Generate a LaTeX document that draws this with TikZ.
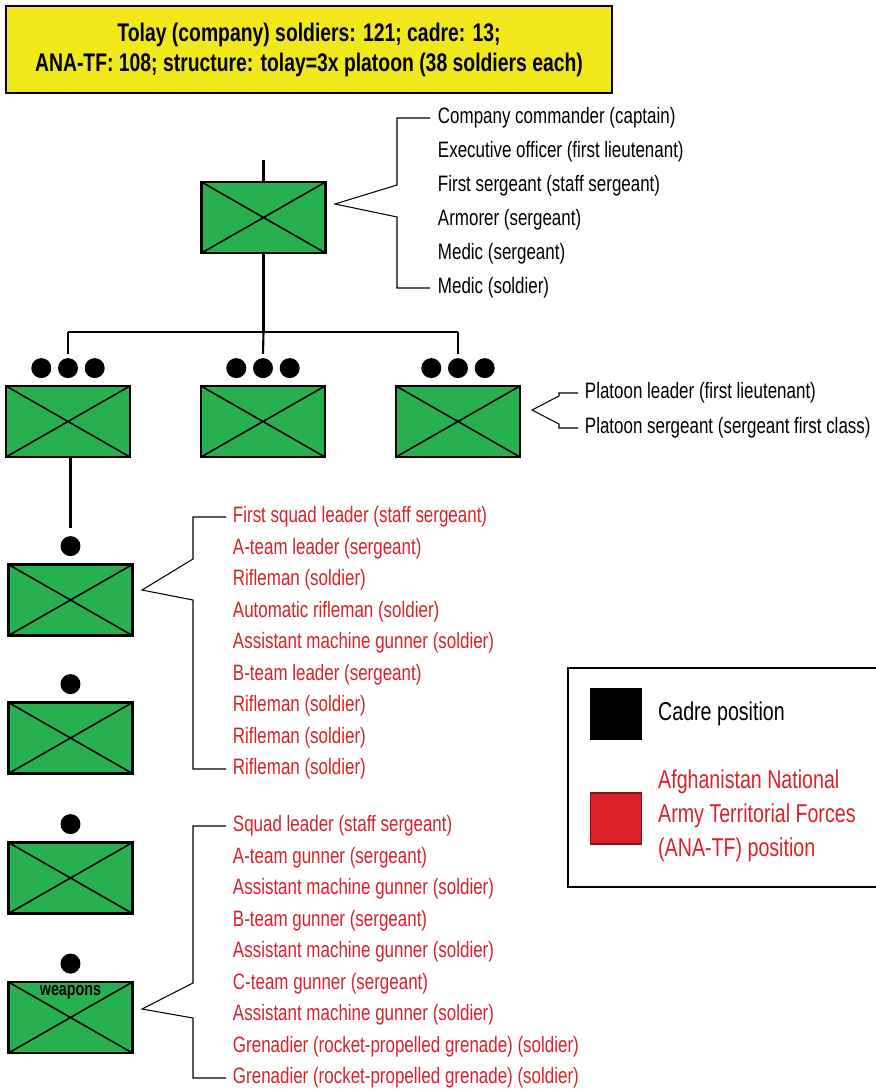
\documentclass[tikz,border=0pt]{standalone}
\usepackage{fontspec}
\setmainfont[FakeStretch=0.76]{Liberation Sans}
\usetikzlibrary{positioning}

\definecolor{armygreen}{RGB}{38,176,80}
\definecolor{titleyellow}{RGB}{240,232,26}
\definecolor{anared}{RGB}{218,33,39}

\tikzset{
  unitbox/.style={draw, line width=1.2pt, fill=armygreen, minimum width=2.48cm,
    minimum height=1.42cm, inner sep=0pt,
    path picture={\draw[line width=0.9pt]
      (path picture bounding box.north west) -- (path picture bounding box.south east)
      (path picture bounding box.south west) -- (path picture bounding box.north east);}},
  rankdot/.style={circle, fill=black, minimum size=0.4cm, inner sep=0pt},
  role/.style={anchor=west, inner sep=1.5pt, font=\fontsize{12.7}{14}\selectfont},
  anarole/.style={role, text=anared},
  brace/.style={line width=0.6pt},
  tree/.style={line width=1.2pt}
}

\begin{document}
\begin{tikzpicture}[x=0.02cm, y=-0.02cm]
\useasboundingbox (0,0) rectangle (876,1090);

% title
\node[draw, line width=0.8pt, fill=titleyellow, minimum width=12.12cm, minimum height=1.74cm,
  align=center, font=\bfseries\fontsize{14.5}{17}\selectfont] (title) at (309,49.5)
  {Tolay (company) soldiers: 121; cadre: 13;\\ANA-TF: 108; structure: tolay=3x platoon (38 soldiers each)};

% company
\node[unitbox] (co) at (263.5,217.5) {};
\coordinate (cotop) at (263.5,160);
\draw[tree] (cotop) -- (co.north);

% platoons
\node[unitbox] (p1) at (68,421.5) {};
\node[unitbox] (p2) at (263,421.5) {};
\node[unitbox] (p3) at (458,421.5) {};
\foreach \p in {p1,p2,p3} {
  \node[rankdot, above=0.13cm of \p] (\p d) {};
  \node[rankdot, left=0.12cm of \p d] (\p dl) {};
  \node[rankdot, right=0.12cm of \p d] (\p dr) {};
}

\coordinate (bus) at (263.5,332);
\coordinate (busl) at (68,332);
\coordinate (busr) at (458,332);
\draw[tree] (co.south) -- (bus);
\draw[tree] (busl) -- (busr);
\draw[tree] (busl) -- ([yshift=0.08cm]p1d.north);
\draw[tree] (bus) -- ([yshift=0.08cm]p2d.north);
\draw[tree] (busr) -- ([yshift=0.08cm]p3d.north);

% squads
\node[unitbox] (s1) at (70.5,600) {};
\node[unitbox] (s2) at (70.5,738) {};
\node[unitbox] (s3) at (70.5,878) {};
\node[unitbox] (sw) at (70.5,1017.5) {};
\foreach \s in {s1,s2,s3,sw}
  \node[rankdot, above=0.14cm of \s] (\s d) {};
\node[font=\bfseries\fontsize{10.7}{12}\selectfont] (swlabel) at (70.5,992) {weapons};
\draw[tree] (s1d.north |- p1.south) -- ([yshift=0.16cm]s1d.north);

% company roles
\foreach \t [count=\i] in {Company commander (captain), Executive officer (first lieutenant),
  First sergeant (staff sergeant), Armorer (sergeant), Medic (sergeant), Medic (soldier)}
  \node[role] (cr\i) at (435,{118+34*(\i-1)}) {\t};
\draw[brace] ([xshift=-0.1cm]cr1.west) -| (397,185) -- (335,204) -- (397,217) |- ([xshift=-0.1cm]cr6.west);

% platoon roles
\node[role] (pr1) at (582,393) {Platoon leader (first lieutenant)};
\node[role] (pr2) at (582,428) {Platoon sergeant (sergeant first class)};
\draw[brace] ([xshift=-0.08cm]pr1.west) -| (559,396) -- (532,410) -- (559,424) |- ([xshift=-0.08cm]pr2.west);

% squad roles
\foreach \t [count=\i] in {First squad leader (staff sergeant), A-team leader (sergeant),
  Rifleman (soldier), Automatic rifleman (soldier), Assistant machine gunner (soldier),
  B-team leader (sergeant), Rifleman (soldier), Rifleman (soldier), Rifleman (soldier)}
  \node[anarole] (sr\i) at (230,{517+31.5*(\i-1)}) {\t};
\draw[brace] ([xshift=-0.08cm]sr1.west) -| (193,559) -- (142,590) -- (193,600) |- ([xshift=-0.08cm]sr9.west);

% weapons squad roles
\foreach \t [count=\i] in {Squad leader (staff sergeant), A-team gunner (sergeant),
  Assistant machine gunner (soldier), B-team gunner (sergeant),
  Assistant machine gunner (soldier), C-team gunner (sergeant),
  Assistant machine gunner (soldier), Grenadier (rocket-propelled grenade) (soldier),
  Grenadier (rocket-propelled grenade) (soldier)}
  \node[anarole] (wr\i) at (230,{826+31.5*(\i-1)}) {\t};
\draw[brace] ([xshift=-0.08cm]wr1.west) -| (193,983) -- (142,1009) -- (193,1018) |- ([xshift=-0.08cm]wr9.west);

% legend
\draw[line width=0.6pt] (568,668) rectangle (880,887);
\node[fill=black, minimum size=1.04cm, inner sep=0pt] (lk) at (616,714) {};
\node[fill=anared, draw=anared!60!black, line width=0.6pt, minimum size=1.02cm, inner sep=0pt] (lr) at (616,818.5) {};
\node[anchor=west, font=\fontsize{14.7}{19.4}\selectfont] (lktext) at (652,714) {Cadre position};
\node[anchor=west, align=left, text=anared, font=\fontsize{14.7}{19.4}\selectfont] (lrtext) at (652,816)
  {Afghanistan National\\Army Territorial Forces\\(ANA-TF) position};
\end{tikzpicture}
\end{document}
